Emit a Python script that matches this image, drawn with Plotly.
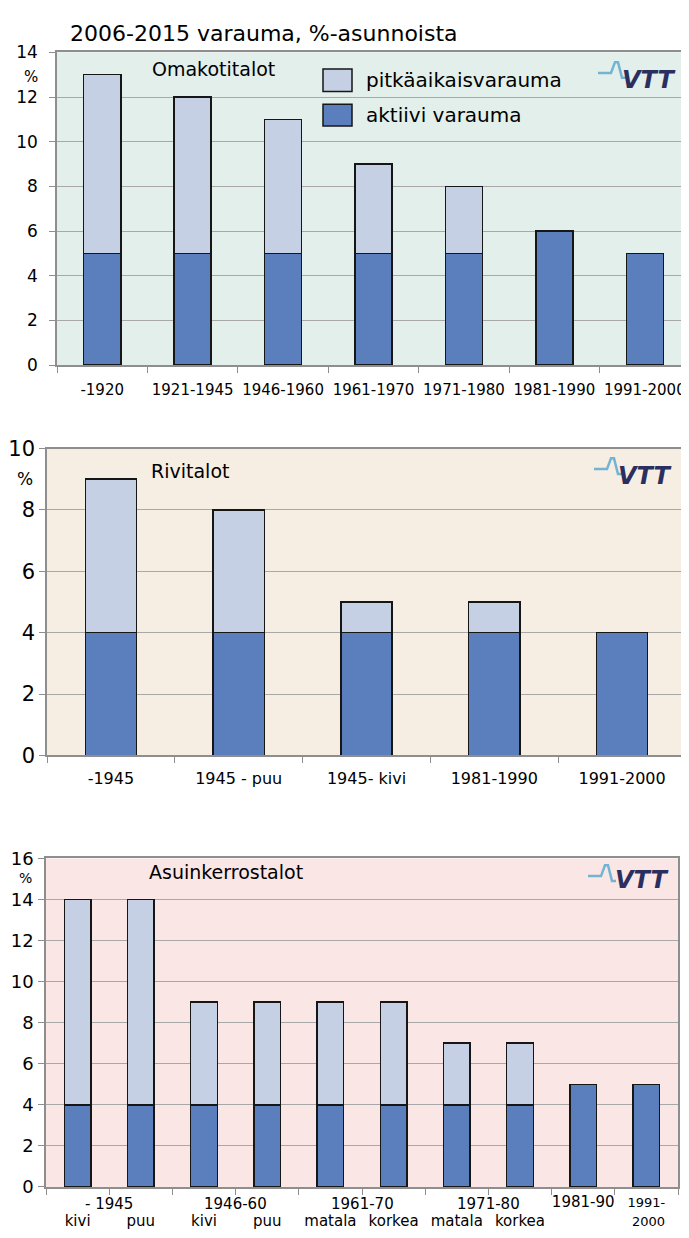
import plotly.graph_objects as go

W, H = 689, 1238
FONT = "DejaVu Sans"

# ---------------- data ----------------
title_text = "2006-2015 varauma, %-asunnoista"
series_names = ["pitkäaikaisvarauma", "aktiivi varauma"]

om_title = "Omakotitalot"
om_cats = ["-1920", "1921-1945", "1946-1960", "1961-1970", "1971-1980", "1981-1990", "1991-2000"]
om_aktiivi = [5, 5, 5, 5, 5, 6, 5]
om_pitka = [8, 7, 6, 4, 3, 0, 0]

ri_title = "Rivitalot"
ri_cats = ["-1945", "1945 - puu", "1945- kivi", "1981-1990", "1991-2000"]
ri_aktiivi = [4, 4, 4, 4, 4]
ri_pitka = [5, 4, 1, 1, 0]

ak_title = "Asuinkerrostalot"
ak_cats = ["-1945 kivi", "-1945 puu", "1946-60 kivi", "1946-60 puu", "1961-70 matala",
           "1961-70 korkea", "1971-80 matala", "1971-80 korkea", "1981-90", "1991-2000"]
ak_ticktext = ["\u00a0<br>kivi", "\u00a0<br>puu", "\u00a0<br>kivi", "\u00a0<br>puu", "\u00a0<br>matala",
               "\u00a0<br>korkea", "\u00a0<br>matala", "\u00a0<br>korkea", "1981-90<br>\u00a0",
               "<span style='font-size:13px'>1991-</span><br><span style='font-size:13px'>\u00a02000</span>"]
ak_groups = ["- 1945", "1946-60", "1961-70", "1971-80"]
ak_group_pos = [0.5, 2.5, 4.5, 6.5]
ak_aktiivi = [4, 4, 4, 4, 4, 4, 4, 4, 5, 5]
ak_pitka = [10, 10, 5, 5, 5, 5, 3, 3, 0, 0]

# ---------------- styles ----------------
C_LIGHT = "#c5d0e4"
C_DARK = "#5b7fbc"
EDGE = "#161616"
GRID = "#a8a8a8"
FRAME = "#8e8e8e"
BG = ["#e3efea", "#f7eee3", "#fbe6e6"]


def px(x):
    return x / W


def py(y):
    return 1 - y / H


# pixel boxes of the three plot areas: (x0, x1, ytop, ybottom)
boxes = [(49, 682, 33, 352), (39, 678, 437, 750), (38, 670, 855, 1190)]
ranges = [14, 10, 16]
widths = [0.41, 0.40, 0.42]
ytick_sizes = [17, 21, 18]
ytick_standoff = [8, 0, 1]
xtick_sizes = [15, 16, 15]
xtick_standoff = [10, 8, 0]

fig = go.Figure()

datasets = [
    (om_cats, om_aktiivi, om_pitka),
    (ri_cats, ri_aktiivi, ri_pitka),
    (ak_cats, ak_aktiivi, ak_pitka),
]

for i, (cats, akt, pit) in enumerate(datasets):
    xa = "x" if i == 0 else f"x{i+1}"
    ya = "y" if i == 0 else f"y{i+1}"
    fig.add_trace(go.Bar(x=cats, y=akt, name=series_names[1], marker=dict(color=C_DARK, line=dict(color=EDGE, width=1.5)),
                         width=widths[i], xaxis=xa, yaxis=ya, showlegend=False))
    fig.add_trace(go.Bar(x=cats, y=pit, name=series_names[0], marker=dict(color=C_LIGHT, line=dict(color=EDGE, width=1.5)),
                         width=widths[i], xaxis=xa, yaxis=ya, showlegend=False))

layout = dict(
    width=W, height=H,
    margin=dict(l=0, r=0, t=0, b=0),
    paper_bgcolor="white",
    plot_bgcolor="rgba(0,0,0,0)",
    barmode="stack",
    font=dict(family=FONT, size=16, color="black"),
    showlegend=False,
)

for i, (x0, x1, yt, yb) in enumerate(boxes):
    sx = "" if i == 0 else str(i + 1)
    cats = datasets[i][0]
    xaxis = dict(
        domain=[px(x0), px(x1)], anchor="y" + sx, type="category",
        showline=True, linecolor=FRAME, linewidth=1.5, mirror=True,
        ticks="outside", tickson="boundaries", ticklen=6, tickcolor=FRAME,
        showgrid=False, tickangle=0, tickfont=dict(family=FONT, size=xtick_sizes[i]),
        ticklabelstandoff=xtick_standoff[i],
        categoryorder="array", categoryarray=cats,
        fixedrange=True,
    )
    if i == 2:
        xaxis.update(tickmode="array", tickvals=ak_cats, ticktext=ak_ticktext)
    yaxis = dict(
        domain=[py(yb), py(yt)], anchor="x" + sx, range=[0, ranges[i]], dtick=2,
        showline=True, linecolor=FRAME, linewidth=1.5, mirror=True,
        ticks="outside", ticklen=6, tickcolor=FRAME,
        showgrid=True, gridcolor=GRID, gridwidth=1, zeroline=False,
        tickfont=dict(family=FONT, size=ytick_sizes[i]), ticklabelstandoff=ytick_standoff[i],
        fixedrange=True,
    )
    layout["xaxis" + sx] = xaxis
    layout["yaxis" + sx] = yaxis

fig.update_layout(**layout)

shapes = []
annotations = []

# plot backgrounds
for i, (x0, x1, yt, yb) in enumerate(boxes):
    shapes.append(dict(type="rect", xref="paper", yref="paper", x0=px(x0), x1=px(x1), y0=py(yb), y1=py(yt),
                       fillcolor=BG[i], line=dict(width=0), layer="below"))

# gap in the 12 gridline behind the legend text (chart 1)
shapes.append(dict(type="rect", xref="paper", yref="paper", x0=px(457), x1=px(658), y0=py(81), y1=py(74),
                   fillcolor=BG[0], line=dict(width=0), layer="between"))

# main title
annotations.append(dict(text=title_text, xref="paper", yref="paper", x=px(60), y=py(14), xanchor="left",
                        yanchor="middle", showarrow=False, font=dict(family=FONT, size=22, color="black")))

# chart titles
for t, (x, y) in zip([om_title, ri_title, ak_title], [(142, 50), (141, 460), (139, 869)]):
    annotations.append(dict(text=t, xref="paper", yref="paper", x=px(x), y=py(y), xanchor="left", yanchor="middle",
                            showarrow=False, font=dict(family=FONT, size=19, color="black")))

# "%" unit labels
for (x, y, s) in [(23, 58, 15), (17, 468, 17), (17, 875, 14)]:
    annotations.append(dict(text="%", xref="paper", yref="paper", x=px(x), y=py(y), xanchor="center", yanchor="middle",
                            showarrow=False, font=dict(family=FONT, size=s, color="black")))

# legend (manual, large swatches)
for (name, color, y0, y1) in [(series_names[0], C_LIGHT, 50, 73), (series_names[1], C_DARK, 86, 108)]:
    shapes.append(dict(type="rect", xref="paper", yref="paper", x0=px(315), x1=px(344), y0=py(y1), y1=py(y0),
                       fillcolor=color, line=dict(color=EDGE, width=1.5), layer="above"))
    annotations.append(dict(text=name, xref="paper", yref="paper", x=px(356), y=py((y0 + y1) / 2), xanchor="left",
                            yanchor="middle", showarrow=False, font=dict(family=FONT, size=20, color="black")))

# group labels of chart 3 (first label line)
for g, pos in zip(ak_groups, ak_group_pos):
    annotations.append(dict(text=g, xref="x3", yref="paper", x=pos, y=py(1207), xanchor="center", yanchor="middle",
                            showarrow=False, font=dict(family=FONT, size=15, color="black")))


# VTT logos
def vtt_logo(cx, cy, sx, sy):
    # sx, sy : start of pulse line (pixels); cx, cy : centre of the VTT letters
    pts = [(sx, sy), (sx + 13, sy), (sx + 17, sy - 11), (sx + 20, sy - 11), (sx + 24, sy + 5), (sx + 28, sy + 5)]
    path = "M " + " L ".join(f"{px(a):.5f},{py(b):.5f}" for a, b in pts)
    shapes.append(dict(type="path", xref="paper", yref="paper", path=path,
                       line=dict(color="#72b4d3", width=2.5), layer="above"))
    annotations.append(dict(text="<b><i>VTT</i></b>", xref="paper", yref="paper", x=px(cx), y=py(cy),
                            xanchor="center", yanchor="middle", showarrow=False,
                            font=dict(family=FONT, size=24, color="#2b2f5f")))


vtt_logo(640, 61, 590, 54)
vtt_logo(636, 465, 586, 458)
vtt_logo(633, 877, 580, 873)

fig.update_layout(shapes=shapes, annotations=annotations)

fig.write_html("out.html")
